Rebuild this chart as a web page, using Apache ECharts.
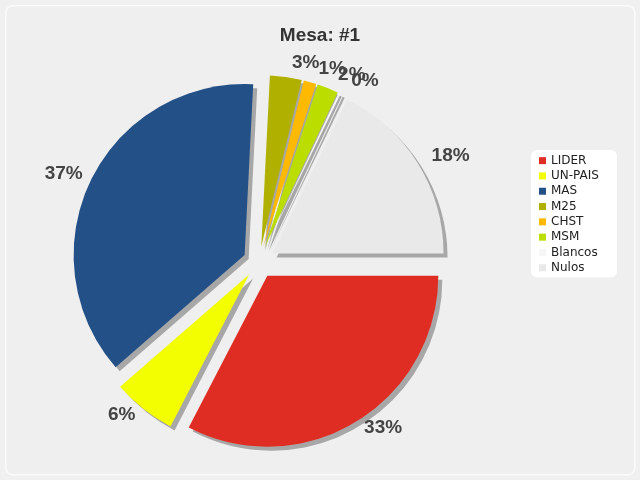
<!DOCTYPE html>
<html>
<head>
<meta charset="utf-8">
<script src="https://cdn.jsdelivr.net/npm/echarts@6/dist/echarts.min.js"></script>
<style>html,body{margin:0;padding:0;background:#f0f0f0;}#chart{width:640px;height:480px;}</style>
</head>
<body>
<div id="chart"></div>
<script>
const categories = ['LIDER', 'UN-PAIS', 'MAS', 'M25', 'CHST', 'MSM', 'Blancos', 'Nulos'];
const values = [32.6, 6.0, 37.2, 3.0, 1.2, 2.0, 0.2, 17.8];
const colors = ['#e02d24', '#f3ff00', '#235187', '#b0b000', '#ffb900', '#bbdd00', '#f6f6f6', '#e9e9e9'];
const titleText = 'Mesa: #1';

const CX = 259, CY = 262, R = 171, OFF = 16, LRX = 187, LR_UP = 182, LR_DOWN = 175;
const total = values.reduce((a, b) => a + b, 0);
const midAngles = [];
let acc = 0;
values.forEach(v => {
  const span = v / total * 360;
  midAngles.push(90 + acc + span / 2);
  acc += span;
});

const chart = echarts.init(document.getElementById('chart'), null, {renderer: 'canvas'});
const pieData = categories.map((c, i) => ({
  name: c, value: values[i], selected: true,
  itemStyle: {color: colors[i]}
}));

function labelSeries(ringR, upper) {
  const data = categories.map((c, i) => {
    const a = midAngles[i] * Math.PI / 180;
    const dx = Math.sin(a), dy = -Math.cos(a);
    const kx = (LRX - ringR) * dx + (dx >= 0 ? 17 : -10);
    const show = upper ? dy < 0 : dy >= 0;
    return {
      name: c, value: values[i], selected: true,
      label: {show: show, padding: [0, Math.max(0, -2 * kx), 0, Math.max(0, 2 * kx)]}
    };
  });
  return {
    type: 'pie',
    center: [CX, CY],
    radius: [ringR - 1, ringR + 1],
    startAngle: 0,
    clockwise: true,
    selectedMode: 'multiple',
    selectedOffset: OFF,
    silent: true,
    legendHoverLink: false,
    avoidLabelOverlap: false,
    data: data,
    itemStyle: {color: 'rgba(0,0,0,0)', borderWidth: 0},
    label: {
      position: 'inside',
      formatter: p => Math.round(p.percent) + '%',
      fontFamily: 'Liberation Sans', fontWeight: 'bold', fontSize: 19, color: '#444'
    },
    labelLine: {show: false},
    labelLayout: {hideOverlap: false},
    emphasis: {disabled: true}
  };
}

chart.setOption({
  backgroundColor: '#f0f0f0',
  animation: false,
  graphic: [{
    type: 'rect', left: 5, top: 5, z: -10,
    shape: {width: 629, height: 469, r: 7},
    style: {fill: '#efefef', stroke: '#fbfbfb', lineWidth: 1.5}
  }],
  title: {
    text: titleText, left: 'center', top: 21,
    textStyle: {fontFamily: 'Liberation Sans', fontWeight: 'bold', fontSize: 19, color: '#333'}
  },
  legend: {
    orient: 'vertical', left: 531, top: 150,
    data: categories,
    icon: 'rect', itemWidth: 7, itemHeight: 7, itemGap: 2,
    backgroundColor: '#ffffff', borderRadius: 6,
    padding: [4, 18, 3, 8],
    textStyle: {fontFamily: 'DejaVu Sans', fontSize: 12, color: '#222', lineHeight: 13.3},
    selectedMode: false
  },
  series: [{
    type: 'pie',
    center: [CX, CY],
    radius: R,
    startAngle: 0,
    clockwise: true,
    selectedMode: 'multiple',
    selectedOffset: OFF,
    data: pieData,
    itemStyle: {
      shadowColor: 'rgba(0,0,0,0.3)', shadowOffsetX: 4, shadowOffsetY: 4, shadowBlur: 0,
      borderWidth: 0
    },
    label: {show: false},
    labelLine: {show: false},
    emphasis: {disabled: true}
  }, labelSeries(LR_UP, true), labelSeries(LR_DOWN, false)]
});
</script>
</body>
</html>
